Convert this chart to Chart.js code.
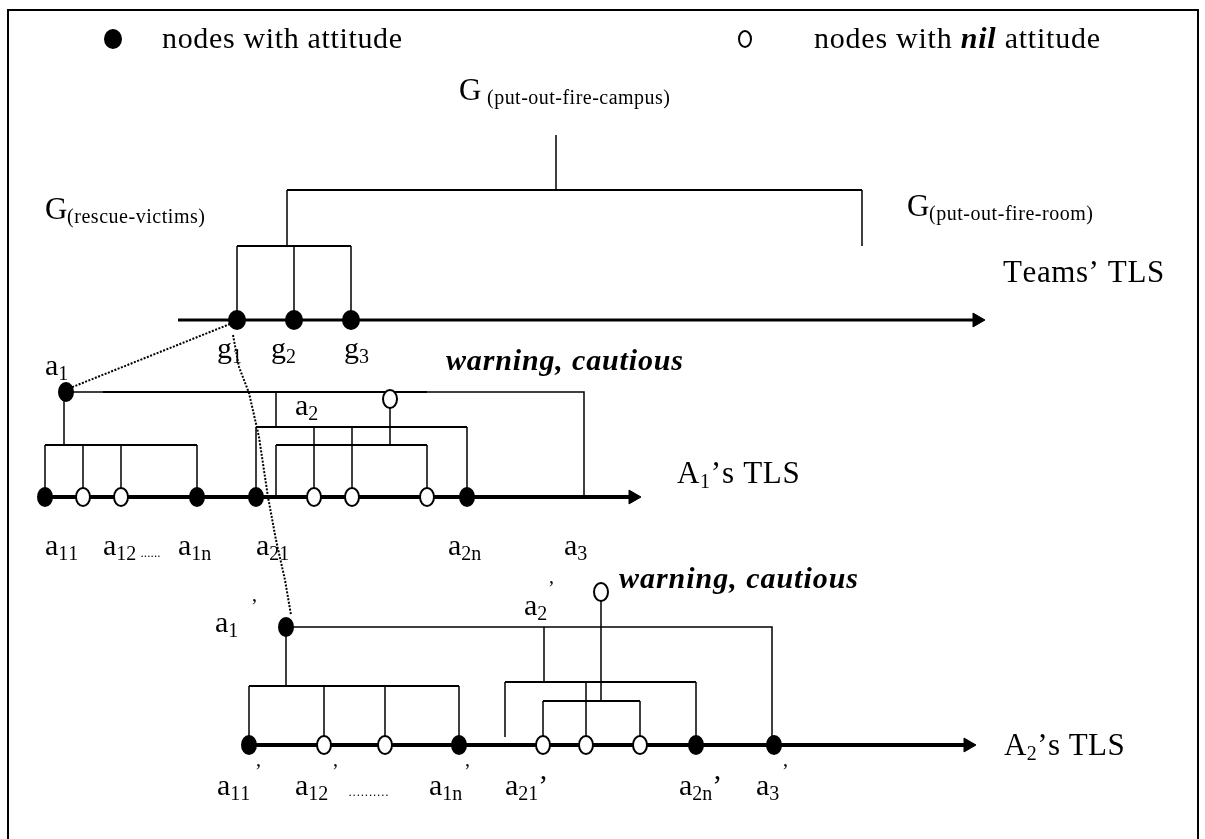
<!DOCTYPE html>
<html>

<head>
    <title>Teams' TLS</title>
    <script src="https://cdn.jsdelivr.net/npm/chart.js"></script>
    <style>
        body {
            margin: 0;
            background-color: #fff;
        }

        canvas {
            display: block;
        }
    </style>
</head>

<body>
    <canvas id="tlsChart" width="1205" height="839"></canvas>

    <script>
        // sheet units: x 0..1205 left to right, y 0..839 top to bottom
        const teamsY = 320;
        const teamsNodes = [237, 294, 351];
        const a1Y = 497;
        const a1Filled = [45, 197, 256, 467];
        const a1Open = [83, 121, 314, 352, 427];
        const a2Y = 745;
        const a2Filled = [249, 459, 696, 774];
        const a2Open = [324, 385, 543, 586, 640];
        const parentsFilled = [[66, 392], [286, 627]];   // a1, a1'
        const parentsOpen = [[390, 399], [601, 592]];    // warning nodes
        const legendFilled = [[113, 39]];
        const legendOpen = [[745, 39]];
        const arrowTips = [[985, 320], [641, 497], [976, 745]];

        const thinLines = [
            [[556, 135], [556, 190]],
            [[287, 190], [287, 246]], [[862, 190], [862, 246]],
            [[237, 246], [237, 320]], [[294, 246], [294, 320]], [[351, 246], [351, 320]],
            [[66, 392], [584, 392], [584, 497]],
            [[64, 392], [64, 445]],
            [[45, 445], [45, 497]], [[83, 445], [83, 497]], [[121, 445], [121, 497]], [[197, 445], [197, 497]],
            [[276, 392], [276, 427]],
            [[256, 427], [256, 497]], [[314, 427], [314, 497]], [[352, 427], [352, 497]], [[467, 427], [467, 497]],
            [[276, 445], [276, 497]], [[427, 445], [427, 497]], [[390, 399], [390, 445]],
            [[286, 627], [772, 627], [772, 745]],
            [[286, 627], [286, 686]],
            [[249, 686], [249, 745]], [[324, 686], [324, 745]], [[385, 686], [385, 745]], [[459, 686], [459, 745]],
            [[544, 627], [544, 682]],
            [[505, 682], [505, 737]], [[586, 682], [586, 745]], [[696, 682], [696, 745]],
            [[543, 701], [543, 745]], [[640, 701], [640, 745]], [[601, 592], [601, 701]]
        ];
        const bracketLines = [
            [[287, 190], [862, 190]],
            [[237, 246], [351, 246]],
            [[103, 392], [427, 392]],
            [[256, 427], [467, 427]],
            [[45, 445], [197, 445]],
            [[276, 445], [427, 445]],
            [[249, 686], [459, 686]],
            [[505, 682], [696, 682]],
            [[543, 701], [640, 701]]
        ];
        const teamsAxis = [[[178, teamsY], [978, teamsY]]];
        const agentAxes = [[[45, a1Y], [630, a1Y]], [[249, a2Y], [965, a2Y]]];
        const dottedLines = [
            [[230, 324], [70, 388]],
            [[233, 335], [239, 367], [249, 393], [259, 437], [268, 497], [276, 540], [285, 580], [291, 615]]
        ];
        const frame = [[[8, 839], [8, 10], [1198, 10], [1198, 839]]];

        // symbol labels: main letter, subscript, x, baseline
        const symbolLabels = [
            ['g', '1', 217, 358], ['g', '2', 271, 358], ['g', '3', 344, 358],
            ['a', '1', 45, 375], ['a', '2', 295, 415],
            ['a', '11', 45, 555], ['a', '12', 103, 555], ['a', '1n', 178, 555],
            ['a', '21', 256, 555], ['a', '2n', 448, 555], ['a', '3', 564, 555],
            ['a', '1', 215, 632], ['a', '2', 524, 615],
            ['a', '11', 217, 795], ['a', '12', 295, 795], ['a', '1n', 429, 795],
            ['a', '21', 505, 795, '’'], ['a', '2n', 679, 795, '’'], ['a', '3', 756, 795]
        ];
        const primeMarks = [[251, 613], [548, 595], [255, 778], [332, 778], [464, 778], [782, 778]];

        const fam = "'Liberation Serif', 'Times New Roman', serif";
        const fonts = {
            leg: `30px ${fam}`,
            legBI: `bold italic 30px ${fam}`,
            G: `31px ${fam}`,
            Gsub: `20px ${fam}`,
            tls: `31px ${fam}`,
            tlsSub: `20px ${fam}`,
            sym: `30px ${fam}`,
            symSub: `20px ${fam}`,
            warn: `bold italic 30px ${fam}`,
            prime: `20px ${fam}`,
            dots: `bold 9px ${fam}`
        };

        const textItems = [
            { x: 162, y: 48, w: 240, runs: [['nodes with attitude', 'leg']] },
            { x: 814, y: 48, w: 286, runs: [['nodes with ', 'leg'], ['nil', 'legBI'], [' attitude', 'leg']] },
            { x: 459, y: 100, runs: [['G', 'G']] },
            { x: 487, y: 104, w: 183, runs: [['(put-out-fire-campus)', 'Gsub']] },
            { x: 45, y: 219, runs: [['G', 'G']] },
            { x: 67, y: 223, w: 138, runs: [['(rescue-victims)', 'Gsub']] },
            { x: 907, y: 216, runs: [['G', 'G']] },
            { x: 929, y: 220, w: 164, runs: [['(put-out-fire-room)', 'Gsub']] },
            { x: 1003, y: 282, w: 159, runs: [['Teams’ TLS', 'tls']] },
            { x: 677, y: 483, w: 121, runs: [['A', 'tls'], ['1', 'tlsSub', 5], ['’s TLS', 'tls']] },
            { x: 1004, y: 755, w: 119, runs: [['A', 'tls'], ['2', 'tlsSub', 5], ['’s TLS', 'tls']] },
            { x: 446, y: 370, w: 237, runs: [['warning, cautious', 'warn']] },
            { x: 619, y: 588, w: 239, runs: [['warning, cautious', 'warn']] },
            { x: 141, y: 557, w: 19, runs: [['......', 'dots']] },
            { x: 349, y: 796, w: 39, runs: [['..........', 'dots']] }
        ];

        symbolLabels.forEach(([m, s, x, y, tail]) => {
            const runs = [[m, 'sym'], [s, 'symSub', 5]];
            if (tail) runs.push([tail, 'sym']);
            textItems.push({ x: x, y: y, runs: runs });
        });
        primeMarks.forEach(([x, y]) => textItems.push({ x: x, y: y, runs: [['’', 'prime']] }));

        function toPoints(polylines) {
            const out = [];
            polylines.forEach((pl, i) => {
                if (i > 0) out.push({ x: pl[0][0], y: null });
                pl.forEach(p => out.push({ x: p[0], y: p[1] }));
            });
            return out;
        }

        function lineSet(polylines, width, dash) {
            return {
                data: toPoints(polylines),
                showLine: true,
                spanGaps: false,
                borderColor: '#000',
                borderWidth: width,
                borderDash: dash || [],
                pointRadius: 0,
                order: 3
            };
        }

        function nodeImage(rx, ry, filled) {
            const c = document.createElement('canvas');
            c.width = rx * 2 + 4;
            c.height = ry * 2 + 4;
            const g = c.getContext('2d');
            g.beginPath();
            g.ellipse(c.width / 2, c.height / 2, rx, ry, 0, 0, Math.PI * 2);
            g.fillStyle = filled ? '#000' : '#fff';
            g.fill();
            g.lineWidth = 2;
            g.strokeStyle = '#000';
            g.stroke();
            return c;
        }

        function nodeSet(points, img) {
            return {
                data: points.map(p => ({ x: p[0], y: p[1] })),
                showLine: false,
                pointStyle: img,
                pointRadius: 6,
                order: 0
            };
        }

        const filledImg = nodeImage(7, 9, true);
        const openImg = nodeImage(7, 9, false);
        const teamImg = nodeImage(8, 9, true);

        const textPlugin = {
            id: 'sheetText',
            afterDatasetsDraw(chart) {
                const ctx = chart.ctx;
                const xs = chart.scales.x, ys = chart.scales.y;
                ctx.save();
                ctx.fillStyle = '#000';
                ctx.textBaseline = 'alphabetic';
                ctx.textAlign = 'left';
                textItems.forEach(item => {
                    let natural = 0, count = 0;
                    item.runs.forEach(([t, f]) => {
                        ctx.font = fonts[f];
                        natural += ctx.measureText(t).width;
                        count += [...t].length;
                    });
                    const gap = item.w && count > 1 ? (item.w - natural) / (count - 1) : 0;
                    let px = xs.getPixelForValue(item.x);
                    const py = ys.getPixelForValue(item.y);
                    item.runs.forEach(([t, f, dy]) => {
                        ctx.font = fonts[f];
                        for (const ch of t) {
                            ctx.fillText(ch, px, py + (dy || 0));
                            px += ctx.measureText(ch).width + gap;
                        }
                    });
                });
                ctx.restore();
            }
        };

        const ctx = document.getElementById('tlsChart').getContext('2d');
        const tlsChart = new Chart(ctx, {
            type: 'scatter',
            data: {
                datasets: [
                    nodeSet(teamsNodes.map(x => [x, teamsY]), teamImg),
                    nodeSet(a1Filled.map(x => [x, a1Y]).concat(a2Filled.map(x => [x, a2Y]), parentsFilled), filledImg),
                    nodeSet(a1Open.map(x => [x, a1Y]).concat(a2Open.map(x => [x, a2Y]), parentsOpen), openImg),
                    nodeSet(legendFilled, nodeImage(8, 9, true)),
                    nodeSet(legendOpen, nodeImage(6, 8, false)),
                    {
                        data: arrowTips.map(p => ({ x: p[0] - 8, y: p[1] })),
                        showLine: false,
                        pointStyle: 'triangle',
                        rotation: 90,
                        pointRadius: 8,
                        backgroundColor: '#000',
                        borderColor: '#000',
                        borderWidth: 1,
                        order: 1
                    },
                    lineSet(teamsAxis, 3),
                    lineSet(agentAxes, 4),
                    lineSet(bracketLines, 2),
                    lineSet(thinLines, 1.5),
                    lineSet(dottedLines, 2, [2, 1.5]),
                    lineSet(frame, 2)
                ]
            },
            options: {
                responsive: false,
                animation: false,
                events: [],
                clip: false,
                layout: { padding: 0, autoPadding: false },
                plugins: {
                    legend: { display: false },
                    tooltip: { enabled: false }
                },
                scales: {
                    x: { type: 'linear', min: 0, max: 1205, display: false },
                    y: { type: 'linear', min: 0, max: 839, reverse: true, display: false }
                }
            },
            plugins: [textPlugin]
        });
    </script>
</body>

</html>
